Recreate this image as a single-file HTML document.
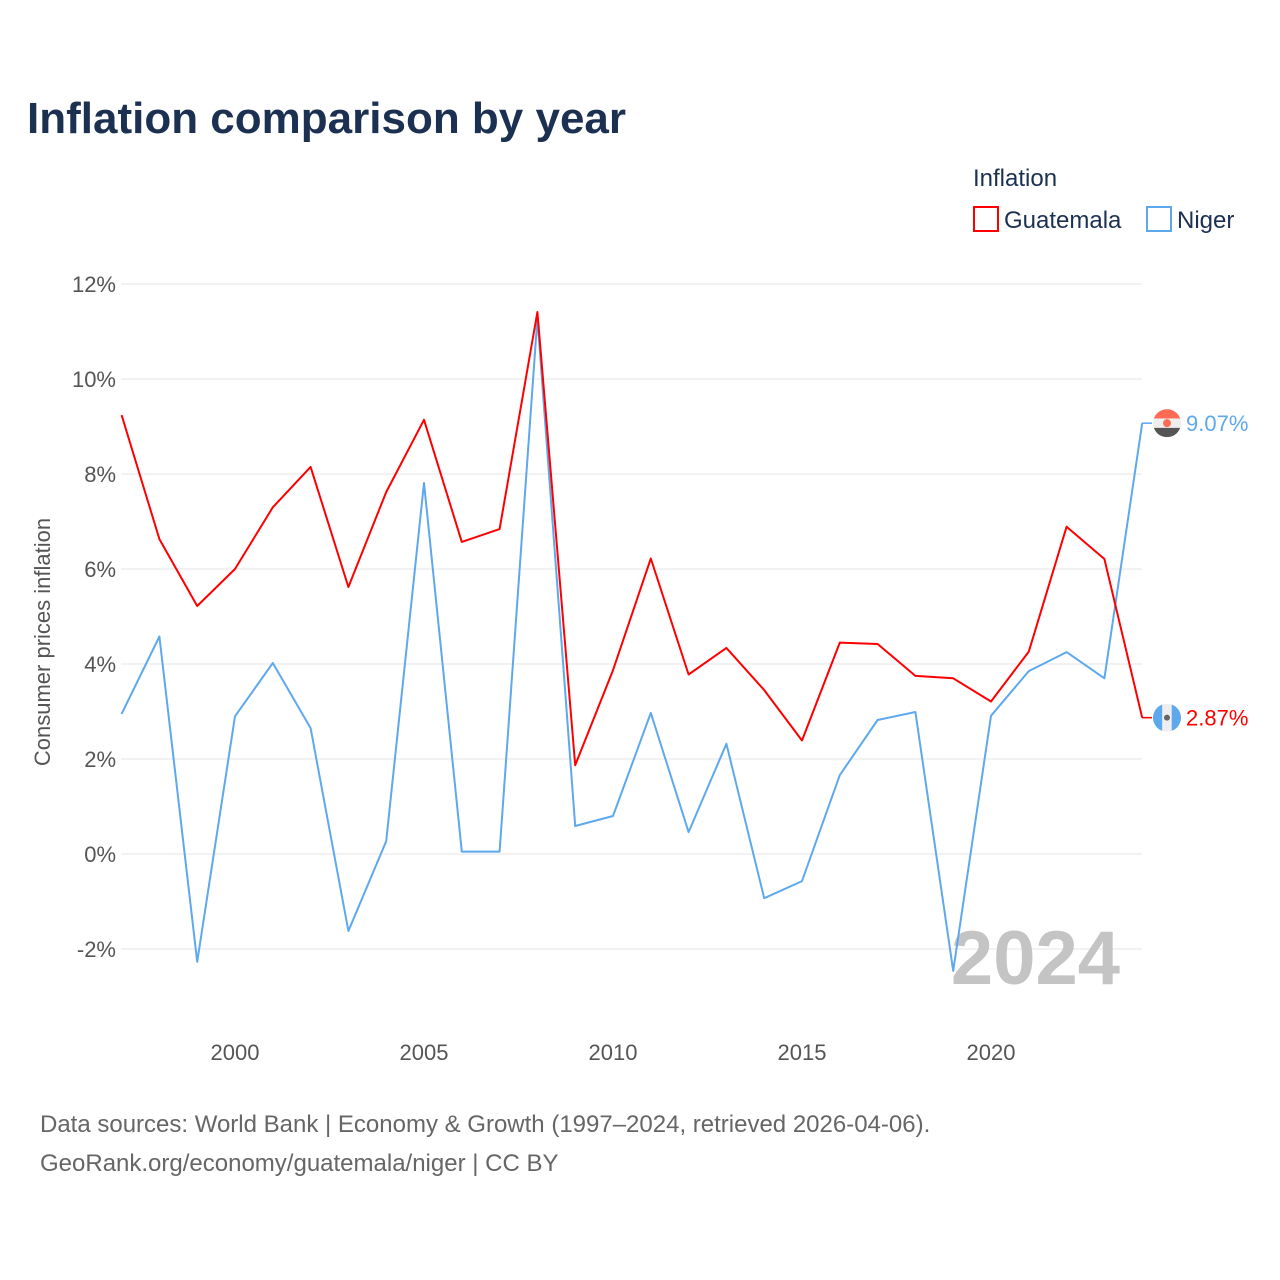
<!DOCTYPE html>
<html><head><meta charset="utf-8"><style>
body{margin:0;background:#fff;font-family:"Liberation Sans",sans-serif;}
#wrap{position:relative;width:1280px;height:1280px;overflow:hidden}
</style></head><body>
<div id="wrap">
<svg id="chart" width="1280" height="1280"></svg>
</div>
<script>
const years=[1997,1998,1999,2000,2001,2002,2003,2004,2005,2006,2007,2008,2009,2010,2011,2012,2013,2014,2015,2016,2017,2018,2019,2020,2021,2022,2023,2024];
const guatemala=[9.24,6.63,5.22,6.0,7.3,8.15,5.62,7.62,9.14,6.57,6.84,11.41,1.87,3.87,6.22,3.78,4.34,3.45,2.39,4.45,4.42,3.75,3.70,3.21,4.26,6.89,6.21,2.87];
const niger=[2.95,4.58,-2.27,2.9,4.02,2.65,-1.62,0.27,7.81,0.05,0.05,11.28,0.59,0.80,2.97,0.46,2.32,-0.93,-0.57,1.66,2.82,2.99,-2.46,2.91,3.85,4.25,3.7,9.07];
const yTicks=[-2,0,2,4,6,8,10,12];
const xTicks=[2000,2005,2010,2015,2020];

const NS="http://www.w3.org/2000/svg";
const svg=document.getElementById('chart');
const X=y=>121.6+(y-1997)*37.8;
const Y=v=>854-v*47.5;
function el(tag,attrs,text){const e=document.createElementNS(NS,tag);for(const k in attrs)e.setAttribute(k,attrs[k]);if(text!==undefined)e.textContent=text;svg.appendChild(e);return e;}
const F='"Liberation Sans",sans-serif';

let t=el('text',{x:27,y:133,'font-size':44,'font-weight':'bold',fill:'#1c3152','font-family':F},'Inflation comparison by year');



yTicks.forEach(v=>{
  let g=el('line',{x1:121,x2:1142,y1:Y(v),y2:Y(v),stroke:'#e6e6e6','stroke-width':1});
  
  
  let l=el('text',{x:116,y:Y(v)+8,'text-anchor':'end','font-size':22,fill:'#555','font-family':F},(v<0?'-'+(-v):v)+'%');
  
  
});
xTicks.forEach(v=>{
  let l=el('text',{x:X(v),y:1060,'text-anchor':'middle','font-size':22,fill:'#555','font-family':F},v);
  
  
});
let yt=el('text',{x:0,y:0,transform:'translate(50,642) rotate(-90)','text-anchor':'middle','font-size':22,fill:'#555','font-family':F},'Consumer prices inflation');



let wm=el('text',{x:1120,y:984,'text-anchor':'end','font-size':76,'font-weight':'bold',fill:'#c4c4c4','font-family':F},'2024');



function series(vals,color,name){
  const d=vals.map((v,i)=>(i?'L':'M')+X(years[i]).toFixed(1)+','+Y(v).toFixed(1)).join(' ');
  let p=el('path',{d:d,fill:'none',stroke:color,'stroke-width':2,'stroke-linejoin':'round'});
  
  
}
series(niger,'#5ea8ee','niger');
series(guatemala,'#ff0000','guatemala');

function endLabel(v,color,name,flag){
  const y=Y(v);
  el('line',{x1:1142,x2:1152,y1:y,y2:y,stroke:color,'stroke-width':1.5});
  const g=document.createElementNS(NS,'g');svg.appendChild(g);
  
  
  const cx=1167;
  const clip=document.createElementNS(NS,'clipPath');clip.setAttribute('id','c'+name);
  const cc=document.createElementNS(NS,'circle');cc.setAttribute('cx',cx);cc.setAttribute('cy',y);cc.setAttribute('r',14);clip.appendChild(cc);g.appendChild(clip);
  const add=(a)=>{const r=document.createElementNS(NS,'rect');for(const k in a)r.setAttribute(k,a[k]);r.setAttribute('clip-path','url(#c'+name+')');g.appendChild(r);};
  if(flag==='ne'){add({x:cx-14,y:y-14,width:28,height:9.3,fill:'#ff6a55'});add({x:cx-14,y:y-4.7,width:28,height:9.4,fill:'#eee'});add({x:cx-14,y:y+4.7,width:28,height:9.3,fill:'#555'});
    const d=document.createElementNS(NS,'circle');d.setAttribute('cx',cx);d.setAttribute('cy',y);d.setAttribute('r',4);d.setAttribute('fill','#ff6a55');g.appendChild(d);}
  else{add({x:cx-14,y:y-14,width:9.3,height:28,fill:'#5ea8ee'});add({x:cx-4.7,y:y-14,width:9.4,height:28,fill:'#eee'});add({x:cx+4.7,y:y-14,width:9.3,height:28,fill:'#5ea8ee'});
    const d=document.createElementNS(NS,'circle');d.setAttribute('cx',cx);d.setAttribute('cy',y);d.setAttribute('r',3);d.setAttribute('fill','#666');g.appendChild(d);}
  let l=el('text',{x:1186,y:y+8,'font-size':22,fill:color,'font-family':F},v.toFixed(2)+'%');
  
  
}
endLabel(niger[niger.length-1],'#5ea8ee','niger','ne');
endLabel(guatemala[guatemala.length-1],'#ff0000','guatemala','gt');

let lt=el('text',{x:973,y:186,'font-size':24,fill:'#1c3152','font-family':F},'Inflation');


[['Guatemala','#ff0000',974],['Niger','#5ea8ee',1147]].forEach(([n,c,x])=>{
  let r=el('rect',{x:x,y:207,width:24,height:24,fill:'#fff',stroke:c,'stroke-width':2});
  
  
  let l=el('text',{x:x+30,y:228,'font-size':24,fill:'#1c3152','font-family':F},n);
  
  
});
let s1=el('text',{x:40,y:1132,'font-size':24,fill:'#666','font-family':F},'Data sources: World Bank | Economy & Growth (1997–2024, retrieved 2026-04-06).');


let s2=el('text',{x:40,y:1171,'font-size':24,fill:'#666','font-family':F},'GeoRank.org/economy/guatemala/niger | CC BY');


</script>
</body></html>
